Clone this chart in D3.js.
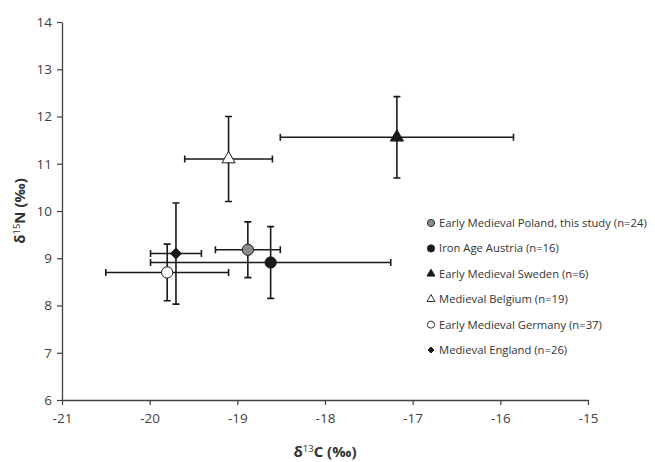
<html>
<head>
<meta charset="UTF-8"/>
<script src="https://d3js.org/d3.v7.min.js"></script>
<style>
body{margin:0;background:#fff;}
text{font-family:"Open Sans","Liberation Sans",sans-serif;}
</style>
</head>
<body>
<script>
// 数据
const groups = ["Early Medieval Poland, this study (n=24)", "Iron Age Austria (n=16)", "Early Medieval Sweden (n=6)",
                "Medieval Belgium (n=19)", "Early Medieval Germany (n=37)", "Medieval England (n=26)"];
const carbon  = [-18.88, -18.62, -17.18, -19.10, -19.80, -19.70];
const carbonSd = [0.37, 1.37, 1.33, 0.50, 0.70, 0.29];
const nitrogen = [9.18, 8.91, 11.56, 11.10, 8.70, 9.10];
const nitrogenSd = [0.59, 0.76, 0.86, 0.90, 0.60, 1.07];
const shapes = ["circle", "circle", "triangle", "triangle", "circle", "diamond"];
const fills = ["#8c8c8c", "#1a1a1a", "#1a1a1a", "#fff", "#fff", "#1a1a1a"];
const xTicks = [-21, -20, -19, -18, -17, -16, -15];
const yTicks = [6, 7, 8, 9, 10, 11, 12, 13, 14];

var width = 655, height = 462;
var svg = d3.select("body").append("svg").attr("width", width).attr("height", height);

var x = d3.scaleLinear().domain([-21, -15]).range([62, 588]);
var y = d3.scaleLinear().domain([6, 14]).range([400, 22]);

var axisColor = "#404040";

// 坐标轴
var gx = svg.append("g").attr("transform", "translate(0," + y(6) + ")")
  .call(d3.axisBottom(x).tickValues(xTicks).tickFormat(d => String(d)).tickSize(5).tickPadding(8).tickSizeOuter(0));
var gy = svg.append("g").attr("transform", "translate(" + x(-21) + ",0)")
  .call(d3.axisLeft(y).tickValues(yTicks).tickFormat(d => String(d)).tickSize(5).tickPadding(5).tickSizeOuter(0));
[gx, gy].forEach(g => {
  g.select(".domain").attr("stroke", axisColor).attr("stroke-width", 1.3);
  g.selectAll(".tick line").attr("stroke", axisColor).attr("stroke-width", 1.2);
  g.selectAll(".tick text").attr("fill", "#404040").attr("font-size", 13.5)
    .style("font-family", "'Open Sans','Liberation Sans',sans-serif");
});

// 轴标题
var xl = svg.append("text").attr("x", 325).attr("y", 457).attr("text-anchor", "middle")
  .attr("font-size", 15).attr("font-weight", "bold").attr("fill", "#333");
xl.append("tspan").text("δ");
xl.append("tspan").attr("font-size", 9.5).attr("dy", -5).attr("font-weight", "normal").text("13");
xl.append("tspan").attr("dy", 5).text("C (‰)");

var yl = svg.append("text").attr("transform", "translate(25,211) rotate(-90)").attr("text-anchor", "middle")
  .attr("font-size", 15).attr("font-weight", "bold").attr("fill", "#333");
yl.append("tspan").text("δ");
yl.append("tspan").attr("font-size", 9.5).attr("dy", -5).attr("font-weight", "normal").text("15");
yl.append("tspan").attr("dy", 5).text("N (‰)");

// 误差线
var idx = d3.range(groups.length);
var cap = 3.5;
var err = svg.append("g").attr("stroke", "#1a1a1a").attr("stroke-width", 1.6).attr("fill", "none");
idx.forEach(i => {
  var cx = x(carbon[i]), cy = y(nitrogen[i]);
  var x0 = x(carbon[i] - carbonSd[i]), x1 = x(carbon[i] + carbonSd[i]);
  var y0 = y(nitrogen[i] - nitrogenSd[i]), y1 = y(nitrogen[i] + nitrogenSd[i]);
  err.append("path").attr("d",
    "M" + x0 + "," + cy + "H" + x1 +
    "M" + x0 + "," + (cy - cap) + "V" + (cy + cap) +
    "M" + x1 + "," + (cy - cap) + "V" + (cy + cap) +
    "M" + cx + "," + y0 + "V" + y1 +
    "M" + (cx - cap) + "," + y0 + "H" + (cx + cap) +
    "M" + (cx - cap) + "," + y1 + "H" + (cx + cap));
});

function symbolPath(shape, size) {
  var t = shape === "circle" ? d3.symbolCircle : shape === "triangle" ? d3.symbolTriangle : d3.symbolSquare;
  return d3.symbol().type(t).size(size)();
}
function rot(shape) { return shape === "diamond" ? " rotate(45)" : ""; }
var bigSize = {circle: 100, triangle: 75, diamond: 55};

// 数据点
svg.append("g").selectAll("path").data(idx).join("path")
  .attr("transform", i => "translate(" + x(carbon[i]) + "," + y(nitrogen[i]) + ")" + rot(shapes[i]))
  .attr("d", i => symbolPath(shapes[i], bigSize[shapes[i]]))
  .attr("fill", i => fills[i]).attr("stroke", "#1a1a1a").attr("stroke-width", 1);

// 图例
var smallSize = {circle: 40, triangle: 28, diamond: 18};
var leg = svg.append("g").selectAll("g").data(idx).join("g")
  .attr("transform", i => "translate(431," + (223 + i * 25.4) + ")");
leg.append("path").attr("d", i => symbolPath(shapes[i], smallSize[shapes[i]]))
  .attr("transform", i => rot(shapes[i]))
  .attr("fill", i => fills[i]).attr("stroke", "#1a1a1a").attr("stroke-width", 0.9);
var legText = leg.append("text").attr("x", 8).attr("dy", "0.35em").attr("font-size", 12).attr("fill", "#333")
  .text(i => groups[i]);
// 按最长一行宽度 (约 211px) 调整字号
var w0 = legText.node().getComputedTextLength();
legText.attr("font-size", Math.min(12.5, 12 * 208 / w0));
</script>
</body>
</html>
